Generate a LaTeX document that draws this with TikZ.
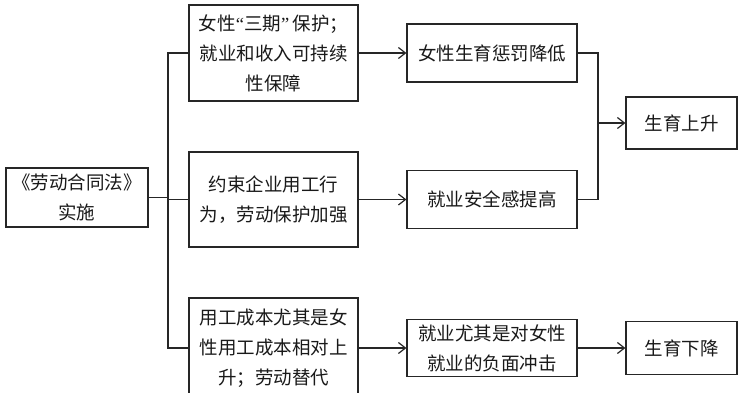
\documentclass[tikz,border=0pt]{standalone}
\usepackage{fontspec}
\setmainfont{Noto Sans CJK SC}
\newfontfamily\latq{Liberation Serif}
\usetikzlibrary{arrows.meta}
\begin{document}
\begin{tikzpicture}[x=1pt,y=-1pt,
  box/.style={draw=black!85,line width=1.2pt,inner sep=0pt,align=center,
    font=\fontsize{18.5pt}{30pt}\selectfont,text=black!90},
  ln/.style={draw=black!85,line width=1.2pt},
  arr/.style={ln,-{Straight Barb[length=7pt,width=11pt,line width=1.2pt]}}]
\useasboundingbox (0,0) rectangle (740,392);
\clip (0,0) rectangle (740,392);
\node[box,minimum width=142pt,minimum height=59pt] (L) at (77,197.5) {《劳动合同法》\\实施};
\node[box,minimum width=169pt,minimum height=96pt] (A1) at (273.5,53) {女性{\latq“}三期{\latq”\,}保护；\\就业和收入可持续\\性保障};
\node[box,minimum width=169pt,minimum height=95pt] (A2) at (273.5,199.5) {约束企业用工行\\为，劳动保护加强};
\node[box,minimum width=169pt,minimum height=100pt] (A3) at (273.5,348) {用工成本尤其是女\\性用工成本相对上\\升；劳动替代};
\node[box,minimum width=170pt,minimum height=58pt] (B1) at (492,53) {女性生育惩罚降低};
\node[box,minimum width=170pt,minimum height=58pt] (B2) at (492,199.5) {就业安全感提高};
\node[box,minimum width=170pt,minimum height=57pt] (B3) at (492,348) {就业尤其是对女性\\就业的负面冲击};
\node[box,minimum width=111pt,minimum height=52pt] (C1) at (681.5,123) {生育上升};
\node[box,minimum width=111pt,minimum height=53pt] (C2) at (681.5,348) {生育下降};
\coordinate (t) at (168,0);
\coordinate (m) at (598,0);
\draw[ln] (A1.west) -- (A1.west -| t) -- (A3.west -| t) -- (A3.west);
\draw[ln] (L.east) -- (L.east -| t);
\draw[ln] (A2.west) -- (A2.west -| t);
\draw[arr] (A1.east) -- (B1.west);
\draw[arr] (A2.east) -- (B2.west);
\draw[arr] (A3.east) -- (B3.west);
\draw[arr] (B3.east) -- (C2.west);
\draw[ln] (B1.east) -- (B1.east -| m) -- (B2.east -| m) -- (B2.east);
\draw[arr] (C1.west -| m) -- (C1.west);
\end{tikzpicture}
\end{document}
